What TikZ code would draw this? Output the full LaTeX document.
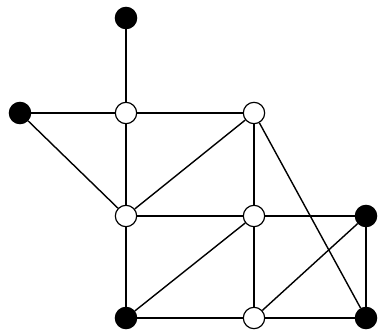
\documentclass[tikz,border=0pt]{standalone}
\usepackage{tikz}
\usetikzlibrary{positioning}

\begin{document}
\begin{tikzpicture}[x=0.03cm, y=-0.03cm,
    vblack/.style={circle, draw, fill=black, inner sep=0pt, minimum size=0.64cm, line width=1pt},
    vwhite/.style={circle, draw, fill=white, inner sep=0pt, minimum size=0.64cm, line width=1pt},
    edge/.style={line width=1.2pt}]
    \useasboundingbox (0,0) rectangle (380,333);
    % vertices
    \node[vblack] (top) at (126,18) {};
    \node[vblack] (left) at (20,113) {};
    \node[vwhite] (a) at (126,113) {};
    \node[vwhite] (b) at (254,113) {};
    \node[vwhite] (c) at (126,216) {};
    \node[vwhite] (d) at (254,216) {};
    \node[vblack] (e) at (366,216) {};
    \node[vblack] (f) at (126,318) {};
    \node[vwhite] (g) at (254,318) {};
    \node[vblack] (h) at (366,318) {};
    % edges
    \foreach \u/\v in {top/a, left/a, a/b, left/c, a/c, b/c, b/d, b/h,
                       c/d, c/f, d/e, d/f, d/g, e/h, e/g, f/g, g/h}
      \draw[edge] (\u) -- (\v);
\end{tikzpicture}
\end{document}
